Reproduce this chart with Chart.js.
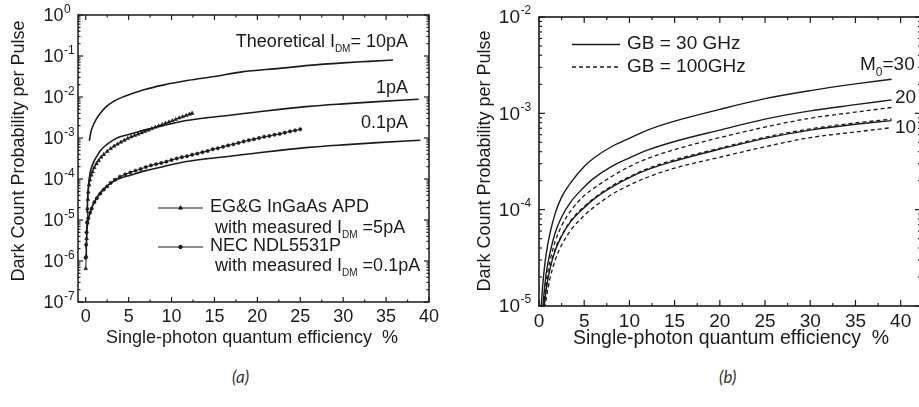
<!DOCTYPE html>
<html>
<head>
<meta charset="utf-8">
<script src="https://cdn.jsdelivr.net/npm/chart.js@4.4.0/dist/chart.umd.min.js"></script>
<style>
  html, body { margin: 0; padding: 0; background: #fff; overflow: hidden; }
  #page { position: relative; width: 919px; height: 407px; overflow: hidden; }
  canvas { position: absolute; top: 0; }
  #chartA { left: 0; }
  #chartB { left: 460px; }
  .caption { position: absolute; top: 366px; font: italic 17px Lato, 'Open Sans', sans-serif; color: #333; }
</style>
</head>
<body>
<div id="page">
  <canvas id="chartA" width="460" height="360"></canvas>
  <canvas id="chartB" width="462" height="360"></canvas>
  <div class="caption" style="left:232px">(a)</div>
  <div class="caption" style="left:719px">(b)</div>
</div>
<script>
// ---- panel (a): theoretical curves, efficiency in %
const theoryEff10 = [0.42, 0.6, 0.9, 1.2, 1.7, 2.4, 3.2, 4.2, 5.2, 7, 9, 12, 15, 18.2, 22.6, 26, 30, 33, 35.8];
const theory10pA = [8.5e-4, 1.4e-3, 2.1e-3, 2.8e-3, 4.0e-3, 5.8e-3, 7.7e-3, 9.8e-3, 1.17e-2, 1.55e-2, 1.95e-2, 2.55e-2, 3.15e-2, 4.1e-2, 5.0e-2, 5.9e-2, 6.8e-2, 7.4e-2, 8.0e-2];

const theoryEff1 = [0.15, 0.25, 0.35, 0.5, 0.7, 0.9, 1.3, 1.7, 2.4, 3.2, 4.0, 5.2, 7, 9, 11, 14, 16.8, 19.5, 22.6, 26, 30, 34, 38.8];
const theory1pA = [1.5e-5, 4.5e-5, 8e-5, 1.38e-4, 2.0e-4, 2.55e-4, 3.6e-4, 4.9e-4, 6.8e-4, 8.9e-4, 1.07e-3, 1.25e-3, 1.6e-3, 2.0e-3, 2.5e-3, 3.1e-3, 3.6e-3, 4.2e-3, 5.0e-3, 5.9e-3, 6.8e-3, 7.7e-3, 8.8e-3];

const theoryEff01 = [0.05, 0.15, 0.3, 0.5, 0.7, 0.9, 1.3, 1.7, 2.4, 3.2, 4.0, 5.2, 7, 9, 11, 14, 16.8, 19.5, 22.6, 26, 30, 34, 39];
const theory01pA = [2e-6, 6e-6, 1.1e-5, 1.45e-5, 2.0e-5, 2.5e-5, 3.5e-5, 4.7e-5, 6.5e-5, 8.6e-5, 1.04e-4, 1.24e-4, 1.6e-4, 2.0e-4, 2.5e-4, 3.1e-4, 3.6e-4, 4.2e-4, 5.0e-4, 5.9e-4, 6.8e-4, 7.7e-4, 8.8e-4];

// ---- panel (a): measured devices
const egEff = [0.0, 0.05, 0.1, 0.15, 0.2, 0.25, 0.3, 0.4, 0.5, 0.65, 0.8, 1.0, 1.25, 1.5, 1.8, 2.1, 2.5, 2.9, 3.3, 3.7, 4.1, 4.5, 4.9, 5.3, 5.7, 6.1, 6.5, 6.9, 7.3, 7.7, 8.1, 8.5, 8.9, 9.3, 9.7, 10.1, 10.5, 10.9, 11.3, 11.7, 12.1, 12.4];
const egDark = [6.5e-7, 1.3e-6, 3.5e-6, 9e-6, 1.9e-5, 3.2e-5, 4.8e-5, 7.2e-5, 9.5e-5, 1.25e-4, 1.5e-4, 1.9e-4, 2.35e-4, 2.8e-4, 3.4e-4, 3.95e-4, 4.7e-4, 5.5e-4, 6.3e-4, 7.1e-4, 7.9e-4, 8.8e-4, 9.8e-4, 1.07e-3, 1.15e-3, 1.24e-3, 1.34e-3, 1.45e-3, 1.56e-3, 1.69e-3, 1.83e-3, 1.98e-3, 2.12e-3, 2.28e-3, 2.45e-3, 2.64e-3, 2.85e-3, 3.1e-3, 3.3e-3, 3.55e-3, 3.8e-3, 4.0e-3];

const necEff = [0.0, 0.05, 0.1, 0.2, 0.3, 0.5, 0.7, 1.0, 1.3, 1.7, 2.1, 2.5, 2.9, 3.4, 4.0, 4.6, 5.2, 5.8, 6.4, 7.0, 7.6, 8.2, 8.8, 9.4, 10.0, 10.6, 11.2, 11.8, 12.4, 13.0, 13.6, 14.2, 14.8, 15.4, 16.0, 16.6, 17.2, 17.8, 18.4, 19.0, 19.6, 20.2, 20.8, 21.4, 22.0, 22.6, 23.2, 23.8, 24.4, 25.0];
const necDark = [1.2e-6, 2.5e-6, 5.0e-6, 8.5e-6, 1.1e-5, 1.5e-5, 1.9e-5, 2.7e-5, 3.4e-5, 4.4e-5, 5.5e-5, 6.6e-5, 8.0e-5, 9.6e-5, 1.14e-4, 1.3e-4, 1.45e-4, 1.6e-4, 1.75e-4, 1.95e-4, 2.15e-4, 2.3e-4, 2.45e-4, 2.65e-4, 2.9e-4, 3.15e-4, 3.4e-4, 3.6e-4, 3.9e-4, 4.15e-4, 4.5e-4, 4.8e-4, 5.3e-4, 5.6e-4, 6.1e-4, 6.6e-4, 7.0e-4, 7.6e-4, 8.2e-4, 8.8e-4, 9.3e-4, 1.0e-3, 1.07e-3, 1.12e-3, 1.2e-3, 1.26e-3, 1.35e-3, 1.45e-3, 1.53e-3, 1.63e-3];

// ---- panel (b): gain-bandwidth comparison for M0 = 30, 20, 10
const gbEff = [0.25, 0.4, 0.6, 0.8, 1.2, 1.8, 2.5, 3.5, 5, 6, 8, 10, 12, 15, 20, 25, 30, 35, 39];
const gb30M30 = [1.0e-5, 1.6e-5, 2.5e-5, 3.5e-5, 5.6e-5, 9.2e-5, 1.35e-4, 1.9e-4, 2.8e-4, 3.4e-4, 4.5e-4, 5.5e-4, 6.7e-4, 8.3e-4, 1.1e-3, 1.42e-3, 1.72e-3, 2.02e-3, 2.26e-3];
const gb30M20 = [5.5e-6, 9e-6, 1.5e-5, 2.2e-5, 3.5e-5, 5.8e-5, 8.4e-5, 1.2e-4, 1.72e-4, 2.1e-4, 2.8e-4, 3.45e-4, 4.15e-4, 5.1e-4, 6.7e-4, 8.7e-4, 1.06e-3, 1.23e-3, 1.38e-3];
const gb30M10 = [4e-6, 6.5e-6, 1.05e-5, 1.5e-5, 2.4e-5, 3.8e-5, 5.3e-5, 7.5e-5, 1.05e-4, 1.27e-4, 1.7e-4, 2.15e-4, 2.6e-4, 3.2e-4, 4.25e-4, 5.5e-4, 6.7e-4, 7.7e-4, 8.4e-4];
const gb100M30 = [5e-6, 8e-6, 1.2e-5, 1.8e-5, 2.9e-5, 4.7e-5, 6.8e-5, 9.7e-5, 1.4e-4, 1.65e-4, 2.2e-4, 2.8e-4, 3.4e-4, 4.2e-4, 5.6e-4, 7.2e-4, 8.9e-4, 1.03e-3, 1.15e-3];
const gb100M20 = [4.2e-6, 6.8e-6, 1.1e-5, 1.55e-5, 2.45e-5, 3.9e-5, 5.4e-5, 7.7e-5, 1.08e-4, 1.3e-4, 1.75e-4, 2.2e-4, 2.67e-4, 3.3e-4, 4.35e-4, 5.65e-4, 6.9e-4, 7.95e-4, 8.7e-4];
const gb100M10 = [3.5e-6, 5.5e-6, 9e-6, 1.2e-5, 1.9e-5, 3.0e-5, 4.3e-5, 6.1e-5, 8.7e-5, 1.05e-4, 1.43e-4, 1.8e-4, 2.17e-4, 2.7e-4, 3.5e-4, 4.5e-4, 5.6e-4, 6.4e-4, 7.1e-4];

// ---- axis ticks
const effTicks = [0, 5, 10, 15, 20, 25, 30, 35, 40];
const decadesA = [-7, -6, -5, -4, -3, -2, -1, 0];
const decadesB = [-5, -4, -3, -2];

const INK = '#1b1b1b';
const FAMILY = "'Liberation Sans', Arial, sans-serif";
const font = size => size + 'px ' + FAMILY;

function pts(xs, ys) {
    return xs.map((x, i) => ({ x: x, y: ys[i] }));
}

function curve(xs, ys, extra) {
    return Object.assign({
        data: pts(xs, ys),
        borderColor: INK,
        backgroundColor: INK,
        borderWidth: 1.4,
        pointRadius: 0,
        fill: false,
        cubicInterpolationMode: 'monotone'
    }, extra || {});
}

// text made of runs, used for subscripts like I_DM and M_0
function drawRuns(ctx, runs, x, y, align) {
    let total = 0;
    runs.forEach(r => { ctx.font = font(r.size); r.w = ctx.measureText(r.text).width; total += r.w; });
    let cx = align === 'right' ? x - total : (align === 'center' ? x - total / 2 : x);
    ctx.textAlign = 'left';
    ctx.textBaseline = 'middle';
    runs.forEach(r => {
        ctx.font = font(r.size);
        ctx.fillText(r.text, cx, y + (r.dy || 0));
        cx += r.w;
    });
}

function legendMarker(ctx, style, radius, x, y) {
    if (Chart.helpers && Chart.helpers.drawPoint) {
        Chart.helpers.drawPoint(ctx, { pointStyle: style, radius: radius, rotation: 0, borderWidth: 1 }, x, y);
        ctx.fill();
    }
}

// box frame with inward ticks on all sides, power-of-ten labels, titles
function makeFrame(cfg) {
    return {
        id: 'frame',
        afterDatasetsDraw(chart) {
            const { ctx, chartArea: a } = chart;
            const xs = chart.scales.x, ys = chart.scales.y;
            ctx.save();
            ctx.strokeStyle = INK;
            ctx.fillStyle = INK;
            ctx.lineWidth = cfg.frameWidth;
            ctx.strokeRect(a.left, a.top, a.right - a.left, a.bottom - a.top);

            ctx.lineWidth = 1.2;
            const seg = (x1, y1, x2, y2) => { ctx.beginPath(); ctx.moveTo(x1, y1); ctx.lineTo(x2, y2); ctx.stroke(); };
            const xTick = (v, len) => {
                const px = xs.getPixelForValue(v);
                if (px < a.left - 0.5 || px > a.right + 0.5) return;
                seg(px, a.bottom, px, a.bottom - len);
                seg(px, a.top, px, a.top + len);
            };
            const yTick = (v, len) => {
                const py = ys.getPixelForValue(v);
                seg(a.left, py, a.left + len, py);
                seg(a.right, py, a.right - len, py);
            };
            effTicks.forEach((v, i) => {
                xTick(v, cfg.major);
                const next = i + 1 < effTicks.length ? effTicks[i + 1] : v + 5;
                xTick((v + next) / 2, cfg.minor);
            });
            cfg.decades.forEach((e, i) => {
                yTick(Math.pow(10, e), cfg.major);
                if (i < cfg.decades.length - 1) {
                    for (let m = 2; m <= 9; m++) yTick(m * Math.pow(10, e), cfg.minor);
                }
            });

            // tick labels
            ctx.textAlign = 'center';
            ctx.textBaseline = 'middle';
            ctx.font = font(cfg.tickSize);
            effTicks.forEach(v => ctx.fillText(String(v), xs.getPixelForValue(v), cfg.xLabelY));
            cfg.decades.forEach(e => {
                const py = ys.getPixelForValue(Math.pow(10, e)) + cfg.yLabelDy;
                ctx.font = font(cfg.tickSize);
                ctx.textAlign = 'right';
                ctx.fillText('10', cfg.yLabelX, py);
                ctx.font = font(cfg.supSize);
                ctx.textAlign = 'left';
                ctx.fillText(String(e), cfg.yLabelX + 0.5, py - cfg.supRise);
            });

            // axis titles
            ctx.font = font(cfg.titleSize);
            ctx.textAlign = 'center';
            ctx.fillText('Single-photon quantum efficiency  %', cfg.xTitle[0], cfg.xTitle[1]);
            ctx.save();
            ctx.translate(cfg.yTitle[0], cfg.yTitle[1]);
            ctx.rotate(-Math.PI / 2);
            ctx.font = font(cfg.yTitleSize);
            ctx.fillText('Dark Count Probability per Pulse', 0, 0);
            ctx.restore();

            cfg.annotate(ctx);
            ctx.restore();
        }
    };
}

const baseOptions = (pad, xMin, xMax, yMin, yMax) => ({
    responsive: false,
    animation: false,
    devicePixelRatio: 1,
    events: [],
    layout: { padding: pad },
    scales: {
        x: { type: 'linear', display: false, min: xMin, max: xMax },
        y: { type: 'logarithmic', display: false, min: yMin, max: yMax }
    },
    plugins: { legend: { display: false }, tooltip: { enabled: false } }
});

// ---------- panel (a)
new Chart(document.getElementById('chartA'), {
    type: 'line',
    data: {
        datasets: [
            curve(theoryEff10, theory10pA, { borderWidth: 1.6 }),
            curve(theoryEff1, theory1pA, { borderWidth: 1.6 }),
            curve(theoryEff01, theory01pA, { borderWidth: 1.6 }),
            curve(egEff, egDark, { borderWidth: 1, pointRadius: 2.2, pointStyle: 'triangle', pointBorderWidth: 0.5, cubicInterpolationMode: 'default' }),
            curve(necEff, necDark, { borderWidth: 1, pointRadius: 1.7, pointStyle: 'circle', pointBorderWidth: 0.5, cubicInterpolationMode: 'default' })
        ]
    },
    options: baseOptions({ left: 78, top: 15, right: 31, bottom: 58 }, -0.9, 40, 1e-7, 1),
    plugins: [makeFrame({
        decades: decadesA,
        frameWidth: 1.5, major: 5, minor: 2.5,
        tickSize: 18, supSize: 12, supRise: 7,
        xLabelY: 317, yLabelX: 63.5, yLabelDy: 1.5,
        titleSize: 18, yTitleSize: 18,
        xTitle: [252, 338], yTitle: [19, 151],
        annotate(ctx) {
            drawRuns(ctx, [{ text: 'Theoretical I', size: 18 }, { text: 'DM', size: 10, dy: 7 }, { text: '= 10pA', size: 18 }], 408, 42, 'right');
            drawRuns(ctx, [{ text: '1pA', size: 18 }], 408, 88, 'right');
            drawRuns(ctx, [{ text: '0.1pA', size: 18 }], 408, 123, 'right');

            // legend
            ctx.lineWidth = 1;
            ctx.beginPath(); ctx.moveTo(158, 208); ctx.lineTo(203, 208); ctx.stroke();
            legendMarker(ctx, 'triangle', 2.2, 180.5, 208);
            ctx.beginPath(); ctx.moveTo(158, 247); ctx.lineTo(203, 247); ctx.stroke();
            legendMarker(ctx, 'circle', 1.7, 180.5, 247);
            drawRuns(ctx, [{ text: 'EG&G InGaAs APD', size: 18 }], 210, 207);
            drawRuns(ctx, [{ text: 'with measured I', size: 18 }, { text: 'DM', size: 10, dy: 7 }, { text: ' =5pA', size: 18 }], 215, 228);
            drawRuns(ctx, [{ text: 'NEC NDL5531P', size: 18 }], 210, 246);
            drawRuns(ctx, [{ text: 'with measured I', size: 18 }, { text: 'DM', size: 10, dy: 7 }, { text: ' =0.1pA', size: 18 }], 215, 266);
        }
    })]
});

// ---------- panel (b)
const dashed = { borderDash: [4, 3], borderWidth: 1.3 };
new Chart(document.getElementById('chartB'), {
    type: 'line',
    data: {
        datasets: [
            curve(gbEff, gb30M30),
            curve(gbEff, gb30M20),
            curve(gbEff, gb30M10),
            curve(gbEff, gb100M30, dashed),
            curve(gbEff, gb100M20, dashed),
            curve(gbEff, gb100M10, dashed)
        ]
    },
    options: baseOptions({ left: 79, top: 17, right: 1, bottom: 54 }, 0, 42.25, 1e-5, 1e-2),
    plugins: [makeFrame({
        decades: decadesB,
        frameWidth: 1.6, major: 6, minor: 3,
        tickSize: 19, supSize: 12, supRise: 7,
        xLabelY: 322, yLabelX: 60, yLabelDy: 1,
        titleSize: 19.5, yTitleSize: 18,
        xTitle: [271, 339], yTitle: [25, 161],
        annotate(ctx) {
            ctx.lineWidth = 1.3;
            ctx.beginPath(); ctx.moveTo(112, 44.5); ctx.lineTo(160, 44.5); ctx.stroke();
            ctx.setLineDash([4, 3]);
            ctx.beginPath(); ctx.moveTo(112, 67); ctx.lineTo(160, 67); ctx.stroke();
            ctx.setLineDash([]);
            drawRuns(ctx, [{ text: 'GB = 30 GHz', size: 19 }], 167, 44);
            drawRuns(ctx, [{ text: 'GB = 100GHz', size: 19 }], 167, 67);
            drawRuns(ctx, [{ text: 'M', size: 19 }, { text: '0', size: 12, dy: 8 }, { text: '=30', size: 19 }], 400, 65);
            drawRuns(ctx, [{ text: '20', size: 19 }], 435, 98);
            drawRuns(ctx, [{ text: '10', size: 19 }], 435, 128);
        }
    })]
});
</script>
</body>
</html>
